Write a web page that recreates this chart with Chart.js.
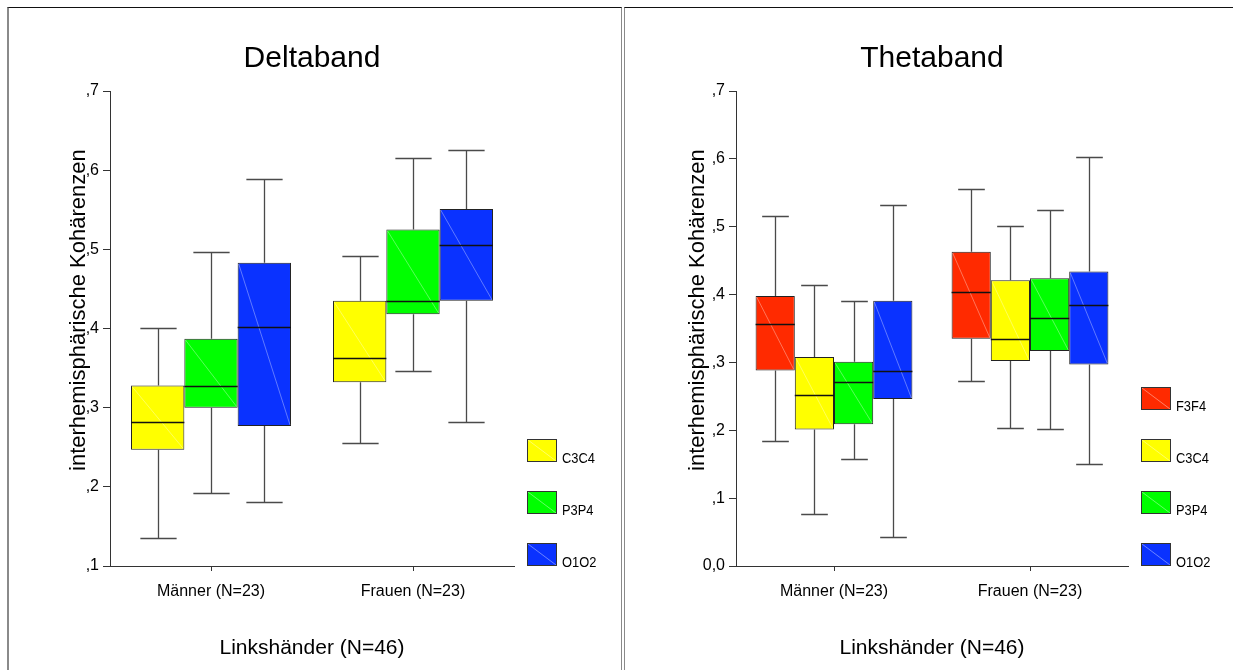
<!DOCTYPE html>
<html><head><meta charset="utf-8">
<script src="https://cdn.jsdelivr.net/npm/chart.js@4/dist/chart.umd.min.js"></script>
<style>
html,body{margin:0;padding:0;background:#fff;width:1233px;height:670px;overflow:hidden}
.panel{position:absolute;top:7px;height:670px;border-top:1px solid #111;box-sizing:border-box}
#p1{left:7px;width:615px;border-left:2px solid #8a8a8a;border-right:1px solid #8a8a8a}
#p2{left:624px;width:609px;border-left:1px solid #8a8a8a}
.wrap{position:absolute;top:8px;height:662px}
#w1{left:9px;width:612px}
#w2{left:626px;width:607px}
</style></head>
<body>
<div class="panel" id="p1"></div>
<div class="panel" id="p2"></div>
<div class="wrap" id="w1"><canvas id="c1" width="612" height="662"></canvas></div>
<div class="wrap" id="w2"><canvas id="c2" width="607" height="662"></canvas></div>
<script>
// ---- data (five-number summaries per group: [min, q1, median, q3, max]) ----
const categories = ['Männer (N=23)', 'Frauen (N=23)'];
const groupTitle = 'Linkshänder (N=46)';
const yTitle = 'interhemisphärische Kohärenzen';

const deltaC3C4 = [[0.135, 0.247, 0.282, 0.328, 0.400], [0.256, 0.332, 0.363, 0.435, 0.492]];
const deltaP3P4 = [[0.192, 0.300, 0.328, 0.387, 0.496], [0.346, 0.418, 0.435, 0.525, 0.615]];
const deltaO1O2 = [[0.181, 0.277, 0.402, 0.483, 0.589], [0.282, 0.435, 0.505, 0.551, 0.626]];

const thetaF3F4 = [[0.184, 0.288, 0.356, 0.398, 0.516], [0.273, 0.335, 0.404, 0.463, 0.555]];
const thetaC3C4 = [[0.077, 0.201, 0.252, 0.308, 0.414], [0.204, 0.302, 0.335, 0.421, 0.501]];
const thetaP3P4 = [[0.158, 0.209, 0.271, 0.301, 0.391], [0.202, 0.317, 0.365, 0.424, 0.524]];
const thetaO1O2 = [[0.043, 0.246, 0.288, 0.391, 0.532], [0.150, 0.297, 0.384, 0.434, 0.603]];

const deltaTicks = [0.1, 0.2, 0.3, 0.4, 0.5, 0.6, 0.7];
const thetaTicks = [0.0, 0.1, 0.2, 0.3, 0.4, 0.5, 0.6, 0.7];

const COLORS = {F3F4: '#ff2a00', C3C4: '#ffff00', P3P4: '#00ff00', O1O2: '#0a32ff'};
const FONT = '"Liberation Sans", Arial, Helvetica, sans-serif';

function fmt(v) {
  const t = Number(v).toFixed(1);
  if (t === '0.0') return '0,0';
  return t.replace(/^0\./, ',');
}

function mkDataset(label, stats) {
  return {
    label: label,
    stats: stats,
    data: stats.map(s => [s[1], s[3]]),
    backgroundColor: COLORS[label],
    borderColor: '#222',
    borderWidth: 1,
    borderSkipped: false,
    categoryPercentage: 0.792,
    barPercentage: 1.0
  };
}

const boxPlugin = {
  id: 'boxWhisker',
  afterDatasetsDraw(chart) {
    const ctx = chart.ctx, y = chart.scales.y;
    chart.data.datasets.forEach((ds, di) => {
      const meta = chart.getDatasetMeta(di);
      meta.data.forEach((bar, i) => {
        const s = ds.stats[i];
        const x = Math.round(bar.x) + 0.5, w = bar.width;
        const l = bar.x - w / 2, r = bar.x + w / 2;
        const yMin = Math.round(y.getPixelForValue(s[0])) + 0.5;
        const yQ1 = y.getPixelForValue(s[1]);
        const yMed = Math.round(y.getPixelForValue(s[2])) + 0.5;
        const yQ3 = y.getPixelForValue(s[3]);
        const yMax = Math.round(y.getPixelForValue(s[4])) + 0.5;
        const cap = w * 0.68 / 2;
        ctx.save();
        ctx.strokeStyle = 'rgba(255,255,255,0.35)';
        ctx.lineWidth = 1;
        ctx.beginPath(); ctx.moveTo(l + 1, yQ3 + 1); ctx.lineTo(r - 1, yQ1 - 1); ctx.stroke();
        ctx.strokeStyle = '#4a4a4a';
        ctx.lineWidth = 1.3;
        ctx.beginPath();
        ctx.moveTo(x, yQ3); ctx.lineTo(x, yMax);
        ctx.moveTo(x, yQ1); ctx.lineTo(x, yMin);
        ctx.moveTo(x - cap, yMax); ctx.lineTo(x + cap, yMax);
        ctx.moveTo(x - cap, yMin); ctx.lineTo(x + cap, yMin);
        ctx.stroke();
        ctx.strokeStyle = '#111';
        ctx.lineWidth = 1.5;
        ctx.beginPath(); ctx.moveTo(l, yMed); ctx.lineTo(r, yMed); ctx.stroke();
        ctx.restore();
      });
    });
  }
};

const legendPlugin = {
  id: 'sideLegend',
  afterDraw(chart) {
    const ctx = chart.ctx, area = chart.chartArea;
    const ds = chart.data.datasets;
    const n = ds.length;
    const bw = 30, bh = 23, step = 52;
    const x0 = Math.round(area.right) + 13;
    ctx.save();
    ds.forEach((d, i) => {
      const top = Math.round(area.bottom) - bh - (n - 1 - i) * step;
      ctx.fillStyle = d.backgroundColor;
      ctx.fillRect(x0, top, bw, bh);
      ctx.strokeStyle = 'rgba(255,255,255,0.4)';
      ctx.lineWidth = 1;
      ctx.beginPath(); ctx.moveTo(x0 + 1, top + 1); ctx.lineTo(x0 + bw - 1, top + bh - 1); ctx.stroke();
      ctx.strokeStyle = '#333';
      ctx.strokeRect(x0 + 0.5, top + 0.5, bw - 1, bh - 1);
      ctx.fillStyle = '#000';
      ctx.font = '14px ' + FONT;
      ctx.textBaseline = 'alphabetic';
      ctx.textAlign = 'left';
      ctx.save();
      ctx.translate(x0 + bw + 5, top + bh + 1);
      ctx.scale(0.92, 1);
      ctx.fillText(d.label, 0, 0);
      ctx.restore();
    });
    ctx.restore();
  }
};

function makeChart(canvasId, title, datasets, yMin, yMax, ticksArr, rightPad, yWidth, yTitlePad, catPct) {
  datasets.forEach(d => d.categoryPercentage = catPct);
  return new Chart(document.getElementById(canvasId), {
    type: 'bar',
    data: {labels: categories, datasets: datasets},
    plugins: [boxPlugin, legendPlugin],
    options: {
      responsive: false,
      animation: false,
      events: [],
      layout: {padding: {left: 0, right: rightPad, top: 0, bottom: 0}},
      plugins: {
        legend: {display: false},
        tooltip: {enabled: false},
        title: {
          display: true, text: title, color: '#000', fullSize: false,
          font: {family: FONT, size: 30, weight: 'normal'},
          padding: {top: 33, bottom: 14}
        }
      },
      scales: {
        x: {
          type: 'category',
          offset: true,
          grid: {display: true, drawOnChartArea: false, drawTicks: true, tickLength: 5, offset: false, color: '#333'},
          border: {display: true, color: '#333', width: 1},
          ticks: {color: '#000', font: {family: FONT, size: 16}, padding: 11, maxRotation: 0, autoSkip: false},
          title: {display: true, text: groupTitle, color: '#000', font: {family: FONT, size: 21}, padding: {top: 0, bottom: 9}},
          afterFit(s) { s.height = 104; }
        },
        y: {
          min: yMin, max: yMax,
          afterBuildTicks(s) { s.ticks = ticksArr.map(v => ({value: v})); },
          grid: {display: true, drawOnChartArea: false, drawTicks: true, tickLength: 7, color: '#333'},
          border: {display: true, color: '#333', width: 1},
          ticks: {color: '#000', font: {family: FONT, size: 16}, padding: 4, callback: v => fmt(v)},
          title: {display: true, text: '      ' + yTitle, color: '#000', font: {family: FONT, size: 22}, padding: {top: yTitlePad, bottom: 0}},
          afterFit(s) { s.width = yWidth; }
        }
      }
    }
  });
}

makeChart('c1', 'Deltaband',
  [mkDataset('C3C4', deltaC3C4), mkDataset('P3P4', deltaP3P4), mkDataset('O1O2', deltaO1O2)],
  0.1, 0.7, deltaTicks, 107, 101, 57, 0.792);

makeChart('c2', 'Thetaband',
  [mkDataset('F3F4', thetaF3F4), mkDataset('C3C4', thetaC3C4), mkDataset('P3P4', thetaP3P4), mkDataset('O1O2', thetaO1O2)],
  0.0, 0.7, thetaTicks, 105, 110, 59, 0.80);
</script>
</body></html>
